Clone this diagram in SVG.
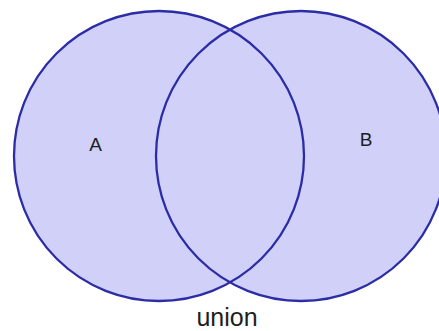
<svg xmlns="http://www.w3.org/2000/svg" width="439" height="331" viewBox="0 0 439 331">
<style>
.set{fill:#d0d0f8;stroke:none}
.edge{fill:none;stroke:#2c2ca6;stroke-width:2.3}
.lbl{font-family:"Liberation Sans",Arial,sans-serif;fill:#1e1e1e;text-anchor:middle}
</style>
<rect width="439" height="331" fill="#ffffff"/>
<g id="fills">
<circle class="set" cx="159" cy="156" r="145"/>
<circle class="set" cx="301" cy="156" r="145"/>
</g>
<g id="setA">
<circle class="edge" cx="159" cy="156" r="145"/>
<text class="lbl" x="95.5" y="151" font-size="19">A</text>
</g>
<g id="setB">
<circle class="edge" cx="301" cy="156" r="145"/>
<text class="lbl" x="366" y="146" font-size="19">B</text>
</g>
<g id="caption">
<text class="lbl" x="227" y="326" font-size="25">union</text>
</g>
</svg>
